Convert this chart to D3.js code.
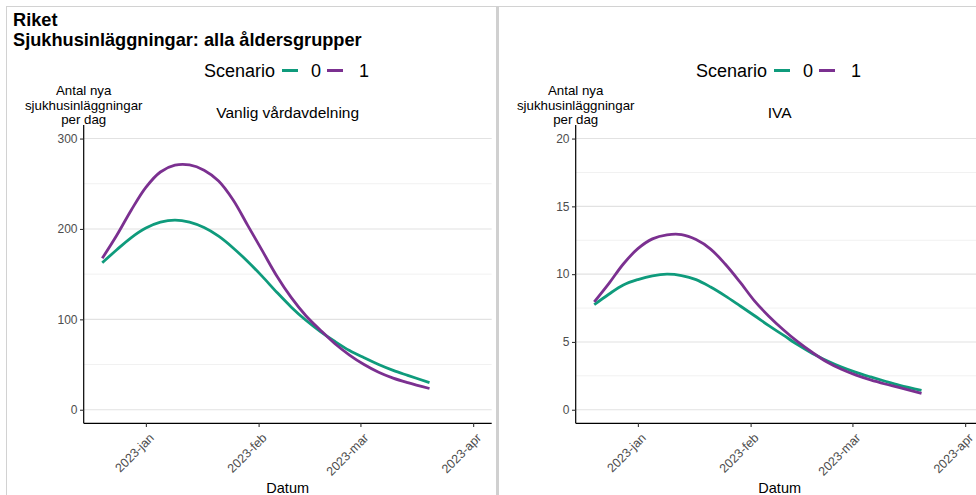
<!DOCTYPE html>
<html>
<head>
<meta charset="utf-8">
<script src="https://cdn.jsdelivr.net/npm/d3@7"></script>
<style>
  html, body { margin: 0; padding: 0; background: #ffffff; }
  svg { display: block; font-family: "Liberation Sans", Arial, sans-serif; }
</style>
</head>
<body>
<svg id="chart" width="976" height="495"></svg>
<script>
// ---------- data ----------
const dates = ["2022-12-20","2022-12-24","2022-12-28","2023-01-01","2023-01-05","2023-01-09",
  "2023-01-13","2023-01-17","2023-01-21","2023-01-25","2023-01-29","2023-02-02","2023-02-06",
  "2023-02-10","2023-02-14","2023-02-18","2023-02-22","2023-02-26","2023-03-02","2023-03-06",
  "2023-03-10","2023-03-14","2023-03-20"];

const vardScenario0 = [162.6,177,190.5,201,207.5,209.8,207.5,201.5,192,179,164,147.5,130,113.5,99,86.5,75.5,65.5,57.5,50,43.5,38,30];
const vardScenario1 = [167.5,193,221,246,263,270.5,270.8,265,253,232,204,176,148,124,104,88,73,60.5,50,41.5,35,30,23.5];
const ivaScenario0  = [7.75,8.52,9.2,9.6,9.88,10.0,9.9,9.6,9.05,8.4,7.68,6.95,6.2,5.5,4.78,4.15,3.62,3.15,2.76,2.42,2.1,1.8,1.42];
const ivaScenario1  = [7.95,9.3,10.75,11.88,12.6,12.9,12.92,12.55,11.85,10.75,9.45,8.05,6.9,5.9,5.0,4.22,3.52,2.98,2.55,2.2,1.9,1.63,1.2];

const xLimits = ["2022-12-20","2023-04-01"];
const xTickDates = ["2023-01-01","2023-02-01","2023-03-01","2023-04-01"];
const xTickLabels = ["2023-jan","2023-feb","2023-mar","2023-apr"];

const vardYLimits = [0, 300];
const vardYTicks = [0, 100, 200, 300];
const vardYMinor = [50, 150, 250];
const ivaYLimits = [0, 20];
const ivaYTicks = [0, 5, 10, 15, 20];
const ivaYMinor = [2.5, 7.5, 12.5, 17.5];

const scenarioNames = ["0", "1"];
const scenarioColors = ["#0f9b7c", "#7b3090"];

const titleLines = ["Riket", "Sjukhusinläggningar: alla åldersgrupper"];
const yTitleLines = ["Antal nya", "sjukhusinläggningar", "per dag"];
const panelTitles = ["Vanlig vårdavdelning", "IVA"];
const xTitle = "Datum";
const legendTitle = "Scenario";

// ---------- drawing ----------
const svg = d3.select("#chart");
const parse = d3.utcParse("%Y-%m-%d");

// frame
svg.append("line").attr("x1", 6).attr("x2", 976).attr("y1", 6.5).attr("y2", 6.5)
  .attr("stroke", "#d2d2d2").attr("stroke-width", 1);
svg.append("line").attr("x1", 6.5).attr("x2", 6.5).attr("y1", 6).attr("y2", 495)
  .attr("stroke", "#d2d2d2").attr("stroke-width", 1);
svg.append("rect").attr("x", 496).attr("y", 6).attr("width", 3).attr("height", 489)
  .attr("fill", "#d0d0d0");

// main title
svg.selectAll("text.title").data(titleLines).join("text")
  .attr("class", "title")
  .attr("x", 13).attr("y", (d, i) => 25.5 + i * 20)
  .attr("font-size", 18.2).attr("font-weight", "bold").attr("fill", "#000")
  .text(d => d);

const lim0 = parse(xLimits[0]), lim1 = parse(xLimits[1]);
const span = lim1 - lim0;
const xDomain = [new Date(+lim0 - 0.05 * span), new Date(+lim1 + 0.05 * span)];

function drawPanel(offset, title, s0, s1, yLim, yTicks, yMinor) {
  const left = 83.7 + offset, width = 408, top = 125, bottom = 423.3;
  const g = svg.append("g");
  const yr = yLim[1] - yLim[0];
  const x = d3.scaleUtc().domain(xDomain).range([left, left + width]);
  const y = d3.scaleLinear().domain([yLim[0] - 0.05 * yr, yLim[1] + 0.05 * yr]).range([bottom, top]);

  // legend
  const lg = g.append("g");
  const ly = 70.5;
  lg.append("text").attr("x", 204 + offset).attr("y", ly + 6.5)
    .attr("font-size", 18).attr("fill", "#000").text(legendTitle);
  const keyX = [282 + offset, 327 + offset];
  const labX = [311 + offset, 359 + offset];
  scenarioNames.forEach((n, i) => {
    lg.append("line").attr("x1", keyX[i]).attr("x2", keyX[i] + 16)
      .attr("y1", ly).attr("y2", ly)
      .attr("stroke", scenarioColors[i]).attr("stroke-width", 3);
    lg.append("text").attr("x", labX[i]).attr("y", ly + 6.5)
      .attr("font-size", 18).attr("fill", "#000").text(n);
  });

  // y title
  g.selectAll("text.ytitle").data(yTitleLines).join("text")
    .attr("class", "ytitle")
    .attr("x", left).attr("y", (d, i) => 95 + i * 14.5)
    .attr("text-anchor", "middle").attr("font-size", 13.3).attr("fill", "#000")
    .text(d => d);

  // panel title
  g.append("text").attr("x", left + width / 2).attr("y", 118.3)
    .attr("text-anchor", "middle").attr("font-size", 15.5).attr("fill", "#000")
    .text(title);

  // grid
  g.selectAll("line.minor").data(yMinor).join("line").attr("class", "minor")
    .attr("x1", left).attr("x2", left + width)
    .attr("y1", d => y(d)).attr("y2", d => y(d))
    .attr("stroke", "#f1f1f1").attr("stroke-width", 1);
  g.selectAll("line.major").data(yTicks).join("line").attr("class", "major")
    .attr("x1", left).attr("x2", left + width)
    .attr("y1", d => y(d)).attr("y2", d => y(d))
    .attr("stroke", "#e2e2e2").attr("stroke-width", 1.1);

  // lines
  const line = d3.line()
    .x((d, i) => x(parse(dates[i])))
    .y(d => y(d))
    .curve(d3.curveCatmullRom.alpha(0.5));
  [s0, s1].forEach((s, i) => {
    g.append("path").datum(s).attr("d", line)
      .attr("fill", "none").attr("stroke", scenarioColors[i])
      .attr("stroke-width", 2.8).attr("stroke-linecap", "butt");
  });

  // y axis
  const yAxis = d3.axisLeft(y).tickValues(yTicks).tickSize(3.7).tickPadding(2.5)
    .tickFormat(d3.format("d"));
  const ya = g.append("g").attr("transform", `translate(${left},0)`).call(yAxis);
  ya.select(".domain").attr("d", `M0,${top}V${bottom}`).attr("stroke", "#000").attr("stroke-width", 1.2);
  ya.selectAll(".tick line").attr("stroke", "#333").attr("stroke-width", 1.1);
  ya.selectAll(".tick text").attr("font-size", 12).attr("fill", "#4d4d4d")
    .attr("font-family", "Liberation Sans, Arial, sans-serif");

  // x axis
  const xAxis = d3.axisBottom(x).tickValues(xTickDates.map(parse)).tickSize(3.7)
    .tickFormat((d, i) => xTickLabels[i]);
  const xa = g.append("g").attr("transform", `translate(0,${bottom})`).call(xAxis);
  xa.select(".domain").attr("d", `M${left},0H${left + width}`).attr("stroke", "#000").attr("stroke-width", 1.2);
  xa.selectAll(".tick line").attr("stroke", "#333").attr("stroke-width", 1.1);
  xa.selectAll(".tick text").attr("font-size", 12.5).attr("fill", "#4d4d4d")
    .attr("font-family", "Liberation Sans, Arial, sans-serif")
    .attr("text-anchor", "end")
    .attr("transform", "translate(2,9) rotate(-45)")
    .attr("x", 0).attr("y", 0).attr("dy", "0.72em");

  // x title
  g.append("text").attr("x", left + width / 2).attr("y", 493)
    .attr("text-anchor", "middle").attr("font-size", 14.5).attr("fill", "#000")
    .text(xTitle);
}

drawPanel(0, panelTitles[0], vardScenario0, vardScenario1, vardYLimits, vardYTicks, vardYMinor);
drawPanel(492, panelTitles[1], ivaScenario0, ivaScenario1, ivaYLimits, ivaYTicks, ivaYMinor);
</script>
</body>
</html>
